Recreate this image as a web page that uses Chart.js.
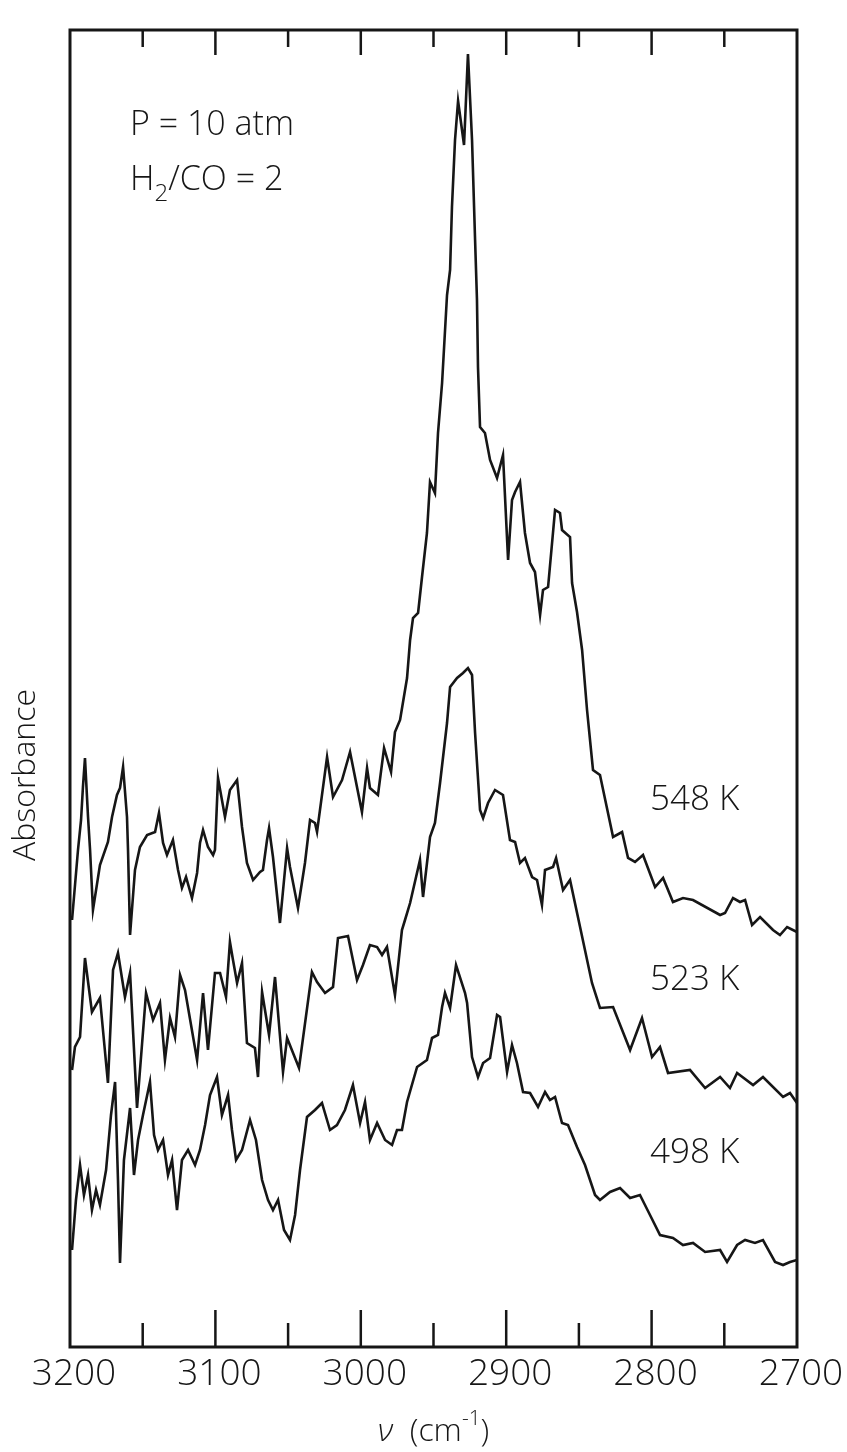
<!DOCTYPE html>
<html>
<head>
<meta charset="utf-8">
<script src="https://cdn.jsdelivr.net/npm/chart.js@4/dist/chart.umd.min.js"></script>
<style>
  html, body { margin: 0; padding: 0; background: #fff; }
  #wrap { width: 847px; height: 1452px; }
</style>
</head>
<body>
<div id="wrap"><canvas id="spectra" width="847" height="1452"></canvas></div>
<script>
// wavenumber (cm-1) and absorbance (arb. units)
const wn548 = [3198.6, 3194.5, 3192.4, 3191.1, 3189.7, 3187.6, 3186.2, 3184.2, 3179.4, 3173.9, 3171.1, 3167.7, 3165.6, 3163.5, 3160.8, 3160.1, 3158.7, 3155.3, 3151.9, 3147.0, 3141.5, 3138.8, 3136.0, 3133.3, 3129.2, 3125.7, 3123.0, 3120.2, 3116.1, 3112.6, 3110.6, 3108.5, 3105.1, 3101.6, 3100.3, 3098.2, 3093.4, 3090.0, 3085.1, 3081.7, 3078.3, 3074.1, 3069.3, 3067.3, 3064.5, 3063.1, 3060.4, 3055.6, 3050.7, 3048.7, 3043.2, 3038.4, 3034.9, 3031.5, 3030.1, 3023.2, 3019.1, 3012.9, 3007.4, 2999.2, 2995.7, 2993.7, 2988.2, 2984.0, 2979.2, 2976.5, 2973.0, 2968.2, 2966.1, 2964.1, 2960.6, 2957.9, 2954.5, 2952.4, 2949.0, 2946.9, 2944.1, 2940.7, 2938.6, 2937.3, 2935.2, 2933.1, 2929.0, 2926.3, 2923.5, 2921.4, 2920.1, 2919.4, 2918.0, 2914.6, 2911.1, 2906.3, 2902.2, 2898.7, 2896.0, 2893.9, 2890.5, 2887.1, 2883.6, 2880.2, 2878.1, 2876.7, 2874.7, 2871.2, 2866.4, 2863.0, 2861.6, 2856.1, 2854.7, 2851.3, 2847.8, 2844.4, 2840.3, 2835.5, 2826.5, 2820.3, 2816.2, 2811.4, 2805.9, 2797.6, 2792.1, 2785.3, 2778.4, 2771.5, 2752.9, 2749.5, 2744.0, 2739.2, 2735.7, 2730.9, 2725.4, 2716.5, 2711.7, 2706.8, 2700.0];
const ab548 = [0.427, 0.497, 0.527, 0.560, 0.589, 0.530, 0.497, 0.437, 0.482, 0.505, 0.530, 0.552, 0.559, 0.580, 0.530, 0.497, 0.412, 0.477, 0.500, 0.512, 0.515, 0.534, 0.504, 0.492, 0.507, 0.477, 0.459, 0.470, 0.449, 0.474, 0.504, 0.517, 0.500, 0.492, 0.497, 0.569, 0.530, 0.557, 0.567, 0.520, 0.484, 0.467, 0.475, 0.477, 0.507, 0.519, 0.490, 0.424, 0.499, 0.480, 0.439, 0.484, 0.527, 0.524, 0.515, 0.590, 0.550, 0.567, 0.595, 0.535, 0.579, 0.559, 0.552, 0.599, 0.575, 0.615, 0.627, 0.669, 0.707, 0.729, 0.734, 0.770, 0.814, 0.865, 0.854, 0.914, 0.964, 1.052, 1.077, 1.140, 1.207, 1.246, 1.202, 1.293, 1.207, 1.107, 1.047, 0.980, 0.920, 0.914, 0.887, 0.869, 0.892, 0.787, 0.847, 0.855, 0.865, 0.814, 0.784, 0.775, 0.749, 0.732, 0.757, 0.760, 0.837, 0.834, 0.817, 0.810, 0.764, 0.735, 0.697, 0.637, 0.577, 0.572, 0.510, 0.515, 0.489, 0.485, 0.492, 0.460, 0.469, 0.445, 0.449, 0.447, 0.432, 0.434, 0.449, 0.445, 0.447, 0.422, 0.430, 0.417, 0.412, 0.420, 0.415];

const wn523 = [3198.6, 3196.6, 3193.1, 3189.7, 3184.9, 3179.4, 3173.9, 3170.4, 3167.0, 3162.2, 3158.7, 3153.9, 3147.7, 3142.9, 3138.1, 3134.7, 3131.2, 3127.8, 3124.3, 3120.9, 3112.6, 3108.5, 3105.1, 3100.3, 3096.8, 3092.7, 3090.0, 3087.9, 3085.1, 3081.7, 3078.3, 3072.8, 3070.7, 3067.9, 3065.9, 3063.1, 3059.0, 3053.5, 3050.7, 3042.5, 3033.6, 3030.1, 3024.6, 3019.1, 3015.7, 3008.8, 3002.6, 2998.5, 2993.7, 2988.8, 2985.4, 2982.0, 2976.5, 2971.7, 2969.6, 2966.1, 2959.3, 2957.2, 2952.4, 2949.0, 2945.5, 2940.7, 2938.6, 2933.8, 2929.7, 2926.3, 2923.5, 2921.4, 2918.0, 2915.9, 2912.5, 2907.7, 2902.2, 2897.4, 2893.9, 2890.5, 2887.1, 2882.2, 2878.8, 2875.4, 2873.3, 2867.8, 2865.7, 2860.9, 2856.1, 2849.2, 2841.0, 2835.5, 2826.5, 2814.8, 2806.6, 2799.7, 2794.2, 2788.7, 2773.6, 2763.2, 2752.9, 2746.1, 2741.2, 2730.2, 2723.4, 2709.6, 2704.8, 2700.0];
const ab523 = [0.277, 0.300, 0.310, 0.389, 0.335, 0.349, 0.264, 0.377, 0.394, 0.350, 0.374, 0.239, 0.354, 0.327, 0.344, 0.287, 0.329, 0.310, 0.372, 0.357, 0.287, 0.354, 0.297, 0.374, 0.374, 0.350, 0.405, 0.387, 0.364, 0.384, 0.304, 0.299, 0.270, 0.355, 0.337, 0.312, 0.370, 0.275, 0.309, 0.279, 0.375, 0.365, 0.354, 0.360, 0.409, 0.411, 0.367, 0.382, 0.402, 0.400, 0.392, 0.400, 0.352, 0.417, 0.427, 0.444, 0.487, 0.450, 0.510, 0.524, 0.564, 0.624, 0.660, 0.669, 0.674, 0.679, 0.672, 0.614, 0.537, 0.529, 0.544, 0.557, 0.552, 0.507, 0.505, 0.484, 0.489, 0.470, 0.467, 0.442, 0.477, 0.480, 0.489, 0.457, 0.467, 0.420, 0.364, 0.339, 0.340, 0.297, 0.329, 0.290, 0.300, 0.274, 0.277, 0.259, 0.270, 0.259, 0.274, 0.262, 0.270, 0.250, 0.254, 0.244];

const wn498 = [3198.6, 3195.9, 3193.1, 3190.4, 3187.6, 3184.9, 3182.1, 3179.4, 3175.2, 3171.8, 3169.0, 3167.0, 3165.6, 3162.9, 3158.7, 3156.0, 3153.2, 3149.8, 3145.0, 3142.2, 3139.5, 3136.0, 3132.6, 3129.8, 3126.4, 3123.0, 3118.8, 3114.0, 3110.6, 3107.1, 3103.7, 3098.9, 3095.5, 3091.3, 3088.6, 3085.8, 3081.7, 3076.2, 3072.1, 3067.9, 3063.8, 3060.4, 3056.9, 3052.8, 3048.7, 3045.2, 3041.8, 3037.0, 3031.5, 3026.7, 3021.2, 3016.4, 3010.9, 3005.4, 3000.5, 2997.1, 2993.7, 2988.8, 2983.3, 2978.5, 2975.1, 2971.7, 2968.2, 2961.3, 2954.5, 2951.0, 2946.9, 2944.1, 2942.1, 2938.6, 2934.5, 2928.3, 2926.9, 2923.5, 2919.4, 2915.9, 2911.1, 2906.3, 2904.2, 2899.4, 2896.0, 2892.6, 2888.4, 2883.6, 2878.1, 2873.3, 2869.9, 2866.4, 2861.6, 2857.5, 2851.3, 2845.8, 2838.9, 2835.5, 2828.6, 2821.7, 2814.8, 2808.0, 2801.1, 2794.2, 2785.3, 2778.4, 2771.5, 2763.2, 2752.9, 2748.1, 2741.2, 2735.7, 2728.9, 2723.4, 2715.1, 2709.6, 2704.8, 2700.0];
const ab498 = [0.097, 0.147, 0.182, 0.152, 0.172, 0.137, 0.157, 0.142, 0.177, 0.232, 0.265, 0.167, 0.084, 0.187, 0.239, 0.172, 0.207, 0.232, 0.265, 0.212, 0.197, 0.207, 0.172, 0.187, 0.137, 0.187, 0.197, 0.182, 0.197, 0.222, 0.252, 0.270, 0.232, 0.252, 0.217, 0.187, 0.197, 0.227, 0.207, 0.167, 0.147, 0.137, 0.147, 0.117, 0.107, 0.132, 0.177, 0.230, 0.237, 0.244, 0.217, 0.222, 0.237, 0.262, 0.224, 0.245, 0.207, 0.224, 0.207, 0.202, 0.217, 0.217, 0.245, 0.280, 0.287, 0.309, 0.312, 0.340, 0.354, 0.339, 0.382, 0.354, 0.344, 0.290, 0.270, 0.284, 0.289, 0.332, 0.330, 0.275, 0.302, 0.284, 0.255, 0.254, 0.240, 0.255, 0.247, 0.250, 0.224, 0.222, 0.200, 0.182, 0.152, 0.147, 0.155, 0.159, 0.149, 0.152, 0.132, 0.112, 0.109, 0.102, 0.104, 0.095, 0.097, 0.085, 0.102, 0.107, 0.104, 0.107, 0.085, 0.082, 0.085, 0.087];

const seriesNames = ['548 K', '523 K', '498 K'];
const tickValues = [3150, 3100, 3050, 3000, 2950, 2900, 2850, 2800, 2750];
const tickLabels = ['3200', '3100', '3000', '2900', '2800', '2700'];
const tickLabelValues = [3200, 3100, 3000, 2900, 2800, 2700];

const toPoints = (xs, ys) => xs.map((x, i) => ({ x: x, y: ys[i] }));

const FONT = '"Open Sans", "DejaVu Sans", sans-serif';
const INK = '#161616';

const decorations = {
  id: 'decorations',
  afterDraw(chart) {
    const ctx = chart.ctx;
    const a = chart.chartArea;
    const x = chart.scales.x;
    ctx.save();

    // frame
    ctx.strokeStyle = INK;
    ctx.lineWidth = 3;
    ctx.strokeRect(a.left, a.top, a.right - a.left, a.bottom - a.top);

    // inward ticks, top and bottom
    ctx.lineWidth = 2.5;
    tickValues.forEach(v => {
      const px = x.getPixelForValue(v);
      const major = v % 100 === 0;
      ctx.beginPath();
      ctx.moveTo(px, a.top);
      ctx.lineTo(px, a.top + (major ? 25 : 17));
      ctx.moveTo(px, a.bottom);
      ctx.lineTo(px, a.bottom - (major ? 37 : 24));
      ctx.stroke();
    });

    ctx.fillStyle = INK;
    ctx.font = '300 37px ' + FONT;
    ctx.textAlign = 'center';
    ctx.textBaseline = 'middle';
    tickLabelValues.forEach((v, i) => {
      ctx.fillText(tickLabels[i], x.getPixelForValue(v) + 4, a.bottom + 27);
    });

    // axis title: nu (cm^-1)
    const ty = 1432;
    ctx.textAlign = 'left';
    ctx.font = 'italic 300 32px ' + FONT;
    const nu = '\u03BD';
    const wNu = ctx.measureText(nu).width;
    ctx.font = '300 32px ' + FONT;
    const wA = ctx.measureText('  (cm').width;
    ctx.font = '300 21px ' + FONT;
    const wSup = ctx.measureText('-1').width;
    ctx.font = '300 32px ' + FONT;
    const wB = ctx.measureText(')').width;
    let cx = (a.left + a.right) / 2 - (wNu + wA + wSup + wB) / 2;
    ctx.font = 'italic 300 32px ' + FONT;
    ctx.fillText(nu, cx, ty); cx += wNu;
    ctx.font = '300 32px ' + FONT;
    ctx.fillText('  (cm', cx, ty); cx += wA;
    ctx.font = '300 21px ' + FONT;
    ctx.fillText('-1', cx, ty - 13); cx += wSup;
    ctx.font = '300 32px ' + FONT;
    ctx.fillText(')', cx, ty);

    // y title
    ctx.save();
    ctx.translate(26, 775);
    ctx.rotate(-Math.PI / 2);
    ctx.textAlign = 'center';
    ctx.font = '300 32px ' + FONT;
    ctx.fillText('Absorbance', 0, 0);
    ctx.restore();

    // conditions
    ctx.textAlign = 'left';
    ctx.textBaseline = 'alphabetic';
    ctx.font = '300 34px ' + FONT;
    ctx.fillText('P = 10 atm', 130, 135);
    let hx = 130;
    ctx.fillText('H', hx, 190); hx += ctx.measureText('H').width;
    ctx.font = '300 24px ' + FONT;
    ctx.fillText('2', hx, 201); hx += ctx.measureText('2').width;
    ctx.font = '300 34px ' + FONT;
    ctx.fillText('/CO = 2', hx, 190);

    // temperature labels
    ctx.font = '300 35px ' + FONT;
    ctx.textBaseline = 'middle';
    const labelY = [800, 980, 1153];
    seriesNames.forEach((s, i) => ctx.fillText(s, 650, labelY[i]));

    ctx.restore();
  }
};

const lineStyle = { borderColor: INK, borderWidth: 2.6, pointRadius: 0, tension: 0, fill: false };

new Chart(document.getElementById('spectra'), {
  type: 'line',
  data: {
    datasets: [
      Object.assign({ label: seriesNames[0], data: toPoints(wn548, ab548) }, lineStyle),
      Object.assign({ label: seriesNames[1], data: toPoints(wn523, ab523) }, lineStyle),
      Object.assign({ label: seriesNames[2], data: toPoints(wn498, ab498) }, lineStyle)
    ]
  },
  options: {
    responsive: false,
    animation: false,
    devicePixelRatio: 1,
    layout: { padding: { left: 70, right: 50, top: 30, bottom: 105 } },
    plugins: { legend: { display: false }, tooltip: { enabled: false } },
    scales: {
      x: { type: 'linear', reverse: true, min: 2700, max: 3200, display: false },
      y: { type: 'linear', min: 0, max: 1.317, display: false }
    }
  },
  plugins: [decorations]
});
</script>
</body>
</html>
